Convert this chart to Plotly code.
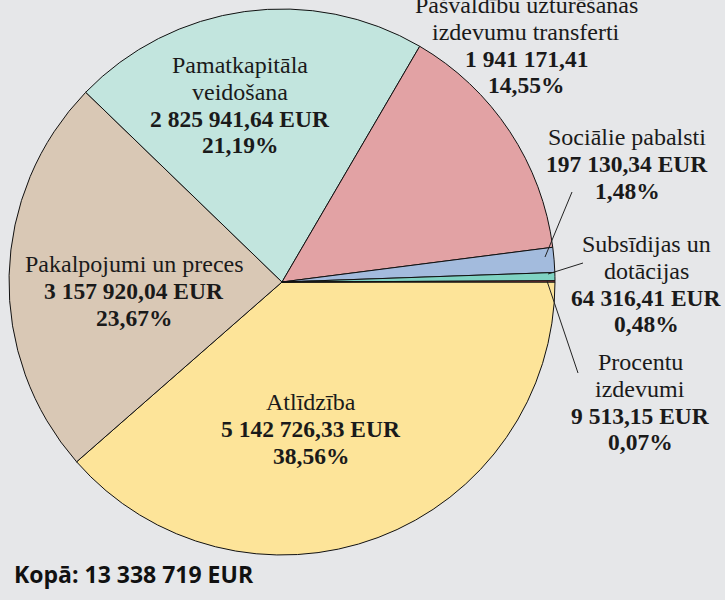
import plotly.graph_objects as go

# ---- data ----
categories = ["Atlīdzība", "Pakalpojumi un preces", "Pamatkapitāla veidošana",
              "Pašvaldību uzturēšanas izdevumu transferti", "Sociālie pabalsti",
              "Subsīdijas un dotācijas", "Procentu izdevumi"]
values = [5142726.33, 3157920.04, 2825941.64, 1941171.41, 197130.34, 64316.41, 9513.15]
name_lines = [["Atlīdzība"], ["Pakalpojumi un preces"], ["Pamatkapitāla", "veidošana"],
              ["Pašvaldību uzturēšanas", "izdevumu transferti"], ["Sociālie pabalsti"],
              ["Subsīdijas un", "dotācijas"], ["Procentu", "izdevumi"]]
value_labels = ["5 142 726,33 EUR", "3 157 920,04 EUR", "2 825 941,64 EUR", "1 941 171,41",
                "197 130,34 EUR", "64 316,41 EUR", "9 513,15 EUR"]
percent_labels = ["38,56%", "23,67%", "21,19%", "14,55%", "1,48%", "0,48%", "0,07%"]
total_label = "Kopā: 13 338 719 EUR"

# ---- style ----
colors = ["#FDE499", "#D9C8B5", "#C2E5DE", "#E2A2A4", "#A3BBDD", "#7FD3C3", "#D8555B"]
W, H = 725, 600
BG = "#E6E7E9"
SERIF = "'Liberation Serif', 'DejaVu Serif', 'Noto Serif', serif"
FS_REG = 24
FS_BOLD = 23.5
LS = 26.8

# label block placement (pixel centre x, first line centre y)
label_pos = [(311, 402), (134, 264), (240, 65), (526, 5), (627, 137), (646, 244), (640, 362)]
# leader lines (from label to slice), pixel coords
leaders = {4: ((572, 192), (545, 257)), 5: ((583, 263), (548, 274)), 6: ((578, 373), (547, 281))}

def px(x):
    return x / W

def py(y):
    return 1 - y / H

cx, cy, r = 282, 282, 273

fig = go.Figure(go.Pie(
    labels=categories, values=values, sort=False, direction="clockwise", rotation=90,
    marker=dict(colors=colors, line=dict(color="#111111", width=1)),
    textinfo="none", hoverinfo="label+value+percent", showlegend=False,
    domain=dict(x=[px(cx - r), px(cx + r)], y=[py(cy + r), py(cy - r)]),
))

annotations = []
for i, (lx, ly) in enumerate(label_pos):
    lines = [(n, FS_REG) for n in name_lines[i]] + [
        ("<b>" + value_labels[i] + "</b>", FS_BOLD),
        ("<b>" + percent_labels[i] + "</b>", FS_BOLD)]
    for k, (t, fs) in enumerate(lines):
        annotations.append(dict(
            x=px(lx), y=py(ly + k * LS), xref="paper", yref="paper",
            xanchor="center", yanchor="middle", showarrow=False, text=t,
            font=dict(family=SERIF, size=fs, color="#1a1a1a"),
        ))

annotations.append(dict(
    x=px(12), y=py(574), xref="paper", yref="paper", xanchor="left", yanchor="middle",
    showarrow=False, text="<b>" + total_label + "</b>",
    font=dict(family="Open Sans", size=23, color="#111111"),
))

shapes = []
for i, ((x0, y0), (x1, y1)) in leaders.items():
    shapes.append(dict(type="line", xref="paper", yref="paper",
                       x0=px(x0), y0=py(y0), x1=px(x1), y1=py(y1),
                       line=dict(color="#222222", width=1)))

fig.update_layout(
    width=W, height=H, margin=dict(l=0, r=0, t=0, b=0),
    paper_bgcolor=BG, plot_bgcolor=BG,
    annotations=annotations, shapes=shapes,
)

fig.write_html("out.html", config={"displayModeBar": False},
               post_script="document.body.style.margin='0px';")
